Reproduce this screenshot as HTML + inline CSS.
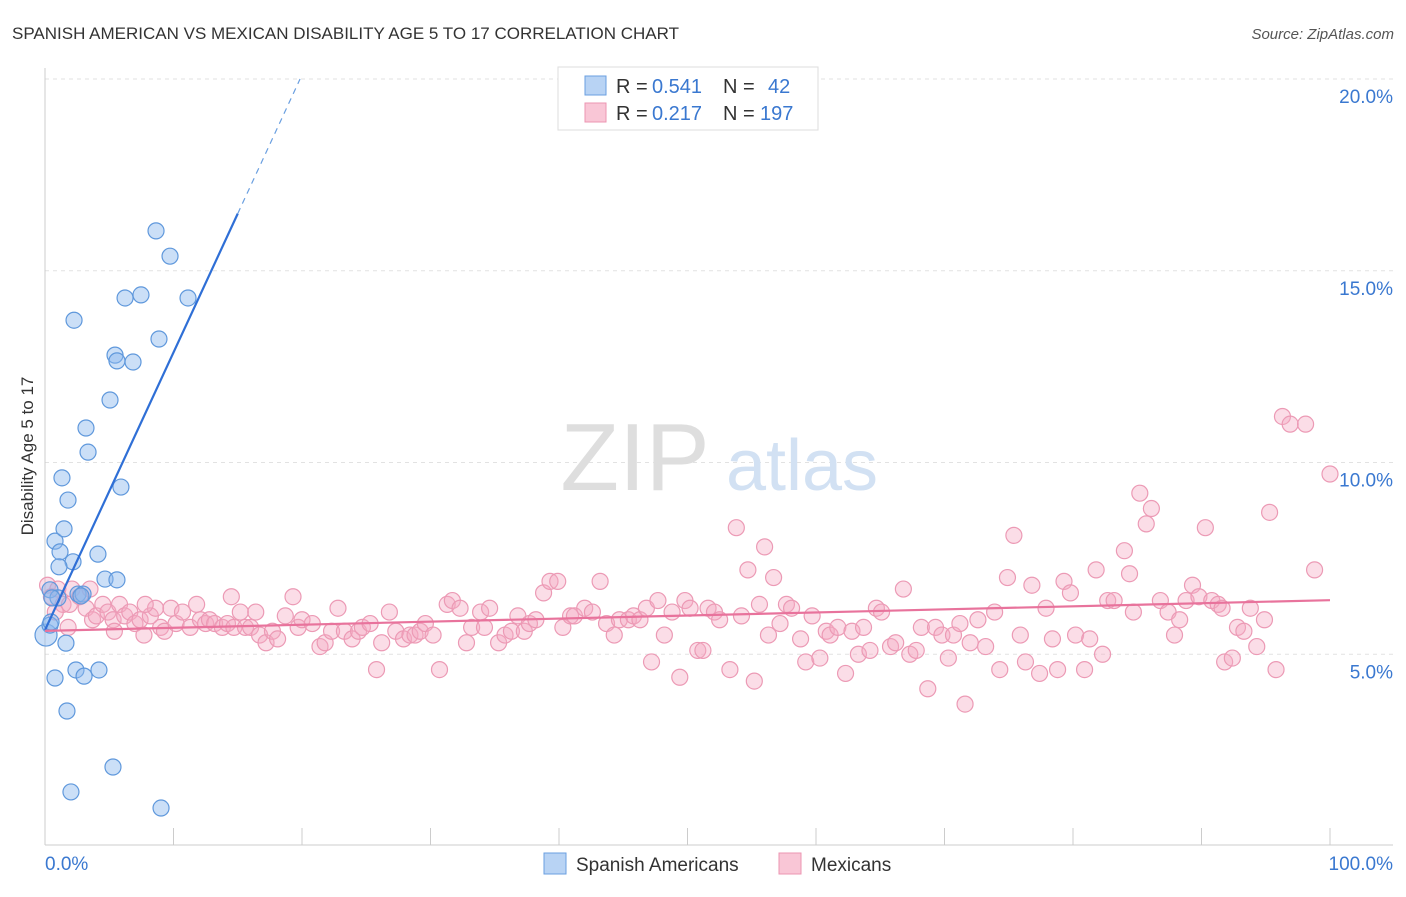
<!DOCTYPE html>
<html><head><meta charset="utf-8"><style>
body{margin:0;background:#fff;font-family:"Liberation Sans",sans-serif;}
svg text{font-family:"Liberation Sans",sans-serif;}
</style></head><body>
<svg width="1406" height="892" xmlns="http://www.w3.org/2000/svg">
<text x="12" y="39" font-size="17" fill="#333">SPANISH AMERICAN VS MEXICAN DISABILITY AGE 5 TO 17 CORRELATION CHART</text>
<text x="1394" y="39" font-size="15" fill="#555" font-style="italic" text-anchor="end">Source: ZipAtlas.com</text>
<g id="grid"></g>
<text x="635" y="490" font-size="96" fill="#dedede" font-family="Liberation Serif" text-anchor="middle">ZIP</text>
<text x="802" y="490" font-size="72" fill="#d2e1f3" text-anchor="middle">atlas</text>
<g id="axes"></g>
<text x="33" y="456" font-size="17" fill="#333" text-anchor="middle" transform="rotate(-90 33 456)">Disability Age 5 to 17</text>
<g id="pink"></g>
<g id="blue"></g>
<g id="lines"></g>
<g>
<rect x="558" y="67" width="260" height="63" fill="#fff" stroke="#ddd"/>
<rect x="585" y="76" width="21" height="19" fill="#b8d3f4" stroke="#6a9fe0"/>
<rect x="585" y="103" width="21" height="19" fill="#f9c6d6" stroke="#ec95b2"/>
<text x="616" y="93" font-size="20" fill="#333">R =</text>
<text x="652" y="93" font-size="20" fill="#3a78d0">0.541</text>
<text x="723" y="93" font-size="20" fill="#333">N =</text>
<text x="768" y="93" font-size="20" fill="#3a78d0">42</text>
<text x="616" y="120" font-size="20" fill="#333">R =</text>
<text x="652" y="120" font-size="20" fill="#3a78d0">0.217</text>
<text x="723" y="120" font-size="20" fill="#333">N =</text>
<text x="760" y="120" font-size="20" fill="#3a78d0">197</text>
</g>
<g>
<rect x="544" y="853" width="22" height="21" fill="#b8d3f4" stroke="#6a9fe0"/>
<text x="576" y="871" font-size="19" fill="#333">Spanish Americans</text>
<rect x="779" y="853" width="22" height="21" fill="#f9c6d6" stroke="#ec95b2"/>
<text x="811" y="871" font-size="19" fill="#333">Mexicans</text>
</g>
</svg>
<script>
const yTicks=[5,10,15,20];
const yTickLabels=["5.0%","10.0%","15.0%","20.0%"];
const xTicks=[10,20,30,40,50,60,70,80,90,100];
const blueX=[0.39,0.78,1.17,1.32,1.48,1.79,2.26,2.18,1.09,1.01,0.08,0.39,0.47,0.54,1.63,0.78,1.71,2.41,3.04,4.2,2.02,5.29,9.03,4.12,4.67,5.6,2.57,2.96,2.8,3.35,3.19,5.06,5.45,5.6,6.85,5.91,8.87,6.23,7.47,11.13,8.64,9.73];
const blueY=[6.68,7.95,7.67,9.6,8.27,9.02,13.71,7.41,7.28,6.47,5.5,5.76,5.84,6.47,5.29,4.38,3.52,4.59,4.43,4.59,1.41,2.06,0.99,7.61,6.96,6.94,6.57,6.57,6.52,10.27,10.9,11.63,12.8,12.65,12.62,9.36,13.22,14.29,14.37,14.29,16.04,15.38];
const pinkX=[0.2,0.5,1.0,1.4,1.9,2.1,2.7,3.2,3.7,4.0,4.5,4.9,5.3,5.8,6.2,6.6,7.0,7.4,7.7,8.2,8.6,9.0,9.3,9.8,10.2,10.7,11.3,11.8,12.1,12.5,12.8,13.2,13.8,14.2,14.7,15.2,15.6,16.0,16.4,16.7,17.2,17.7,18.1,18.7,19.3,19.7,20.0,20.8,21.4,21.8,22.3,22.8,23.3,23.9,24.4,24.7,25.3,25.8,26.2,26.8,27.3,27.9,28.4,28.8,29.2,29.6,30.2,30.7,31.3,31.7,32.3,32.8,33.2,33.9,34.2,34.6,35.3,35.8,36.3,36.8,37.3,37.7,38.2,38.8,39.3,39.9,40.3,40.9,41.2,42.0,42.6,43.2,43.7,44.3,44.7,45.4,45.8,46.3,46.8,47.2,47.7,48.2,48.8,49.4,49.8,50.2,50.8,51.2,51.6,52.1,52.5,53.3,53.8,54.2,54.7,55.2,55.6,56.0,56.3,56.7,57.2,57.7,58.1,58.8,59.2,59.7,60.3,60.8,61.1,61.7,62.3,62.8,63.3,63.7,64.2,64.7,65.1,65.8,66.2,66.8,67.3,67.8,68.2,68.7,69.3,69.8,70.3,70.7,71.2,71.6,72.0,72.6,73.2,73.9,74.3,74.9,75.4,75.9,76.3,76.8,77.4,77.9,78.4,78.8,79.3,79.8,80.2,80.9,81.3,81.8,82.3,82.7,83.2,84.0,84.4,84.7,85.2,85.7,86.1,86.8,87.4,87.9,88.3,88.8,89.3,89.8,90.3,90.8,91.3,91.6,91.8,92.4,92.8,93.3,93.8,94.3,94.9,95.3,95.8,96.3,96.9,98.1,98.8,100,0.8,1.8,5.4,7.8,3.5,14.5];
const pinkY=[6.8,6.5,6.7,6.3,6.3,6.7,6.5,6.2,5.9,6.0,6.3,6.1,5.9,6.3,6.0,6.1,5.8,5.9,5.5,6.0,6.2,5.7,5.6,6.2,5.8,6.1,5.7,6.3,5.9,5.8,5.9,5.8,5.7,5.8,5.7,6.1,5.7,5.7,6.1,5.5,5.3,5.6,5.4,6.0,6.5,5.7,5.9,5.8,5.2,5.3,5.6,6.2,5.6,5.4,5.6,5.7,5.8,4.6,5.3,6.1,5.6,5.4,5.5,5.5,5.6,5.8,5.5,4.6,6.3,6.4,6.2,5.3,5.7,6.1,5.7,6.2,5.3,5.5,5.6,6.0,5.6,5.8,5.9,6.6,6.9,6.9,5.7,6.0,6.0,6.2,6.1,6.9,5.8,5.5,5.9,5.9,6.0,5.9,6.2,4.8,6.4,5.5,6.1,4.4,6.4,6.2,5.1,5.1,6.2,6.1,5.9,4.6,8.3,6.0,7.2,4.3,6.3,7.8,5.5,7.0,5.8,6.3,6.2,5.4,4.8,6.0,4.9,5.6,5.5,5.7,4.5,5.6,5.0,5.7,5.1,6.2,6.1,5.2,5.3,6.7,5.0,5.1,5.7,4.1,5.7,5.5,4.9,5.5,5.8,3.7,5.3,5.9,5.2,6.1,4.6,7.0,8.1,5.5,4.8,6.8,4.5,6.2,5.4,4.6,6.9,6.6,5.5,4.6,5.4,7.2,5.0,6.4,6.4,7.7,7.1,6.1,9.2,8.4,8.8,6.4,6.1,5.5,5.9,6.4,6.8,6.5,8.3,6.4,6.3,6.2,4.8,4.9,5.7,5.6,6.2,5.2,5.9,8.7,4.6,11.2,11.0,11.0,7.2,9.7,6.1,5.7,5.6,6.3,6.7,6.5];
const blueFit=[5.63,0.724];
const pinkFit=[5.61,0.8];
const X0=45,X1=1330,Y0=846,PY=38.35;
const sx=v=>X0+(X1-X0)*v/100;
const sy=v=>Y0-v*PY;
const NS="http://www.w3.org/2000/svg";
function mk(tag,attrs,parent){const e=document.createElementNS(NS,tag);for(const k in attrs)e.setAttribute(k,attrs[k]);parent.appendChild(e);return e;}
const grid=document.getElementById('grid'),axes=document.getElementById('axes');
yTicks.forEach((t,i)=>{
 const l=mk('line',{x1:45,x2:1393,y1:sy(t),y2:sy(t),stroke:'#e2e2e2','stroke-dasharray':'4 4'},grid);
 
 
 const tx=mk('text',{x:1393,y:sy(t)+24,'font-size':19,fill:'#3a78d0','text-anchor':'end'},axes);
 tx.textContent=yTickLabels[i];
 
 
});
const ax=mk('line',{x1:45,x2:1393,y1:845,y2:845,stroke:'#ccc'},axes);


const ay=mk('line',{x1:45,x2:45,y1:68,y2:845,stroke:'#ccc'},axes);


xTicks.forEach(t=>{
 const l=mk('line',{x1:sx(t),x2:sx(t),y1:828,y2:845,stroke:'#ccc'},axes);
 
 
});
const xl0=mk('text',{x:45,y:870,'font-size':19,fill:'#3a78d0'},axes);xl0.textContent='0.0%';


const xl1=mk('text',{x:1393,y:870,'font-size':19,fill:'#3a78d0','text-anchor':'end'},axes);xl1.textContent='100.0%';


const pg=document.getElementById('pink');
pinkX.forEach((x,i)=>{
 const c=mk('circle',{cx:sx(x),cy:sy(pinkY[i]),r:8,fill:'rgba(246,170,196,0.4)',stroke:'#ec9ab5','stroke-width':1.2},pg);
 
 
});
const bg=document.getElementById('blue');
blueX.forEach((x,i)=>{
 const c=mk('circle',{cx:sx(x),cy:sy(blueY[i]),r:i==10?11:8,fill:'rgba(140,185,238,0.45)',stroke:'#5f98dc','stroke-width':1.2},bg);
 
 
});
const lg=document.getElementById('lines');
const bf=x=>blueFit[0]+blueFit[1]*x;
const b1=mk('line',{x1:sx(0),y1:sy(bf(0)),x2:sx(15),y2:sy(bf(15)),stroke:'#2f6fd6','stroke-width':2.2},lg);


const xEnd=(20-blueFit[0])/blueFit[1];
const b2=mk('line',{x1:sx(15),y1:sy(bf(15)),x2:sx(xEnd),y2:sy(bf(xEnd)),stroke:'#6a9fe0','stroke-width':1.2,'stroke-dasharray':'6 5'},lg);


const pf=x=>pinkFit[0]+pinkFit[1]*x/100;
const p1=mk('line',{x1:sx(0),y1:sy(pf(0)),x2:sx(100),y2:sy(pf(100)),stroke:'#e8739c','stroke-width':2.2},lg);


</script>
</body></html>
